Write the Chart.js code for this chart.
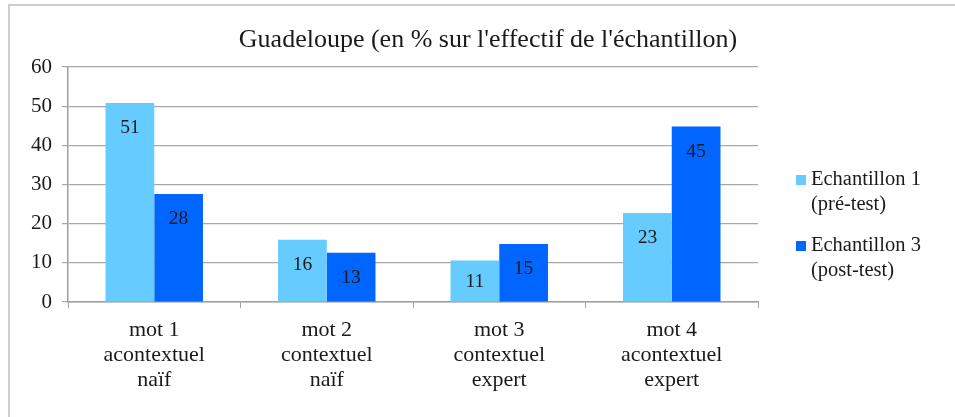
<!DOCTYPE html>
<html><head><meta charset="utf-8">
<script src="https://cdn.jsdelivr.net/npm/chart.js@4"></script>
<style>
html,body{margin:0;padding:0;background:#fff;overflow:hidden;}
#wrap{position:relative;width:955px;height:417px;overflow:hidden;background:#fff;}
#frame{position:absolute;left:8px;top:4px;width:947px;height:413px;border-top:2px solid #cdcdcd;border-left:2px solid #cdcdcd;box-sizing:border-box;}
canvas{position:absolute;left:0;top:0;}
</style></head><body>
<div id="wrap"><div id="frame"></div><canvas id="c" width="955" height="417"></canvas></div>
<script>
const chartTitle = "Guadeloupe (en % sur l'effectif de l'échantillon)";
const categories = [["mot 1","acontextuel","naïf"],["mot 2","contextuel","naïf"],["mot 3","contextuel","expert"],["mot 4","acontextuel","expert"]];
const seriesNames = [["Echantillon 1","(pré-test)"],["Echantillon 3","(post-test)"]];
const echantillon1 = [50.8, 15.9, 10.6, 22.7];
const echantillon3 = [27.6, 12.6, 14.8, 44.8];
const seriesColors = ["#66CCFF", "#0066FF"];
const yMin = 0, yMax = 60, yStep = 10;

const FONT = "'Liberation Serif', 'Times New Roman', Times, serif";
const TEXT = '#1a1a1a';

const titlePlugin = {
  id: 'titleText',
  afterDraw(chart) {
    const ctx = chart.ctx;
    ctx.save();
    ctx.font = '26px ' + FONT;
    ctx.fillStyle = TEXT;
    ctx.textAlign = 'center';
    ctx.textBaseline = 'middle';
    ctx.fillText(chartTitle, 488, 40);
    ctx.restore();
  }
};

const barLabels = {
  id: 'barLabels',
  afterDatasetsDraw(chart) {
    const ctx = chart.ctx;
    ctx.save();
    ctx.font = '19.5px ' + FONT;
    ctx.fillStyle = TEXT;
    ctx.textAlign = 'center';
    ctx.textBaseline = 'middle';
    chart.data.datasets.forEach((ds, i) => {
      chart.getDatasetMeta(i).data.forEach((bar, j) => {
        const y = Math.min(bar.y + 24, (bar.y + bar.base) / 2);
        ctx.fillText(String(Math.round(ds.data[j])), bar.x, y + 1);
      });
    });
    ctx.restore();
  }
};

const legendPlugin = {
  id: 'customLegend',
  afterDraw(chart) {
    const ctx = chart.ctx;
    ctx.save();
    ctx.font = '20.5px ' + FONT;
    ctx.textBaseline = 'middle';
    ctx.textAlign = 'left';
    const tops = [180, 246];
    chart.data.datasets.forEach((ds, i) => {
      const y0 = tops[i];
      ctx.fillStyle = ds.backgroundColor;
      ctx.fillRect(796, y0 - 5, 10, 10);
      ctx.fillStyle = TEXT;
      seriesNames[i].forEach((line, k) => {
        ctx.fillText(line, 811, y0 + k * 25);
      });
    });
    ctx.restore();
  }
};

function build() {
  new Chart(document.getElementById('c'), {
    type: 'bar',
    data: {
      labels: categories,
      datasets: [
        { label: seriesNames[0].join(' '), data: echantillon1, backgroundColor: seriesColors[0], categoryPercentage: 0.565, barPercentage: 1 },
        { label: seriesNames[1].join(' '), data: echantillon3, backgroundColor: seriesColors[1], categoryPercentage: 0.565, barPercentage: 1 }
      ]
    },
    options: {
      responsive: false,
      animation: false,
      devicePixelRatio: 1,
      layout: { padding: { top: 67, right: 197, left: 0, bottom: 0 } },
      plugins: { legend: { display: false }, title: { display: false }, tooltip: { enabled: false } },
      scales: {
        x: {
          offset: true,
          grid: { drawOnChartArea: false, drawTicks: true, tickLength: 6, color: '#a0a0a0', offset: true },
          border: { color: '#a0a0a0', width: 1.5 },
          ticks: { font: { family: FONT, size: 22, lineHeight: 1.13 }, color: TEXT, padding: 10, maxRotation: 0, autoSkip: false },
          afterFit(s) { s.height = 115; }
        },
        y: {
          min: yMin, max: yMax,
          grid: { color: '#a8a8a8', lineWidth: 1.2, tickLength: 6 },
          border: { color: '#a0a0a0', width: 1.5 },
          ticks: { stepSize: yStep, font: { family: FONT, size: 21 }, color: TEXT, padding: 10 },
          afterFit(s) { s.width = 68; }
        }
      }
    },
    plugins: [titlePlugin, barLabels, legendPlugin]
  });
}

if (document.fonts && document.fonts.load) {
  Promise.all([
    document.fonts.load("20px 'Liberation Serif'"),
    document.fonts.load("20px 'Times New Roman'")
  ]).then(build, build);
} else {
  build();
}
</script>
</body></html>
